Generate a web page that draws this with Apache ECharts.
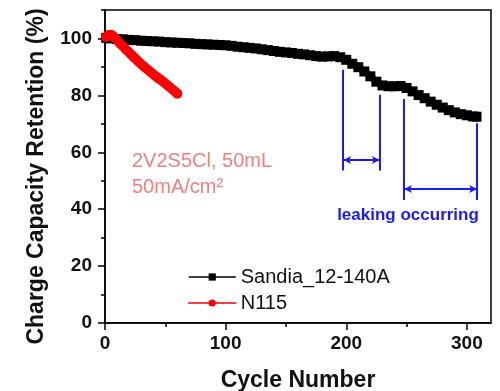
<!DOCTYPE html>
<html><head><meta charset="utf-8">
<script src="https://cdn.jsdelivr.net/npm/echarts@6/dist/echarts.min.js"></script>
<style>html,body{margin:0;padding:0;background:#fff}#c{width:500px;height:391px}</style>
</head><body><div id="c"></div>
<script>
const sandiaCycles = [1,5,10,15,20,25,30,35,40,45,50,55,60,65,70,75,80,85,90,95,100,105,110,115,120,125,130,135,140,145,150,155,160,165,170,175,180,185,190,195,200,205,210,215,220,225,230,235,240,245,250,255,260,265,270,275,280,285,290,295,300,305,308];
const sandiaValues = [100.2,100.0,99.8,99.7,99.5,99.4,99.2,99.1,99.0,98.9,98.7,98.6,98.5,98.4,98.3,98.1,98.0,97.9,97.8,97.7,97.6,97.4,97.1,96.9,96.7,96.5,96.2,95.9,95.6,95.3,95.1,94.9,94.6,94.4,94.1,93.8,93.6,93.7,93.8,93.4,92.5,91.1,89.9,88.4,86.7,84.8,83.5,83.2,83.2,83.3,82.6,81.4,80.1,79.0,77.8,76.7,75.7,74.8,74.0,73.4,73.0,72.6,72.5];
const n115Cycles = [1,3,5,7,9,11,13,15,17,19,21,23,25,27,29,31,33,35,37,39,41,43,45,47,49,51,53,55,57,59,60];
const n115Values = [100.5,101.2,101.3,100.8,99.9,98.9,98.0,97.2,96.3,95.5,94.6,93.8,93.0,92.2,91.4,90.6,89.9,89.2,88.5,87.8,87.1,86.4,85.8,85.2,84.5,83.8,83.1,82.4,81.7,81.0,80.6];
const seriesNames = ['Sandia_12-140A', 'N115'];
const xMajorTicks = [0,100,200,300];
const xMinorTicks = [50,150,250];
const yMajorTicks = [0,20,40,60,80,100];
const yMinorTicks = [10,30,50,70,90,110];
// leak annotation: [x, yTop, yBottom]
const leakVerticals = [[197.5,89.0,53.6],[227.8,80.2,53.6],[247.9,78.7,43.2],[308.5,70.2,43.2]];
// leak spans: [xFrom, xTo, y]
const leakSpans = [[197.5,227.8,57.3],[247.9,308.5,47.1]];
const noteLines = ['2V2S5Cl, 50mL', '50mA/cm\u00b2'];
const leakText = 'leaking occurring';

const FONT = 'Liberation Sans, Arial, sans-serif';
const BLUE = '#1a1aff';
const chart = echarts.init(document.getElementById('c'), null, {renderer:'canvas'});

const markData = [];
leakVerticals.forEach(v => markData.push([{coord:[v[0], v[1]]}, {coord:[v[0], v[2]]}]));
leakSpans.forEach(s => markData.push([
  {coord:[s[0], s[2]], symbol:'arrow', symbolSize:[6,8]},
  {coord:[s[1], s[2]], symbol:'arrow', symbolSize:[6,8]}
]));

const xMin = 0, xMax = 320, yMin = 0, yMax = 110;
chart.setOption({
  animation: false,
  backgroundColor: '#fff',
  grid: {left:105, right:9, top:10, bottom:68, show:true, borderColor:'#000', borderWidth:1.5,
         containLabel:false, outerBoundsMode:'none'},
  legend: {
    data: seriesNames, orient:'vertical', left:183, top:262, itemWidth:47, itemHeight:9, itemGap:6,
    textStyle:{fontFamily:FONT, fontSize:20, color:'#111'},
    lineStyle:{width:1.5}
  },
  xAxis: [{
    type:'value', min:xMin, max:xMax, position:'bottom',
    name:'Cycle Number', nameLocation:'middle', nameGap:46,
    nameTextStyle:{fontFamily:FONT, fontSize:23, fontWeight:'bold', color:'#111'},
    axisLine:{show:true, lineStyle:{color:'#000', width:1.5}},
    axisTick:{show:true, inside:false, length:7, customValues:xMajorTicks, lineStyle:{color:'#000', width:1.5}},
    axisLabel:{customValues:xMajorTicks, margin:11, fontFamily:FONT, fontSize:19, fontWeight:'bold', color:'#111'},
    splitLine:{show:false}
  },{
    type:'value', min:xMin, max:xMax, position:'bottom',
    axisLine:{show:false},
    axisTick:{show:true, inside:false, length:4, customValues:xMinorTicks, lineStyle:{color:'#000', width:1.5}},
    axisLabel:{show:false}, splitLine:{show:false}
  }],
  yAxis: [{
    type:'value', min:yMin, max:yMax, position:'left',
    name:'Charge Capacity Retention (%)', nameLocation:'middle', nameGap:57,
    nameTextStyle:{fontFamily:FONT, fontSize:23, fontWeight:'bold', color:'#111', padding:[0,20,0,0]},
    axisLine:{show:true, lineStyle:{color:'#000', width:1.5}},
    axisTick:{show:true, inside:false, length:7, customValues:yMajorTicks, lineStyle:{color:'#000', width:1.5}},
    axisLabel:{customValues:yMajorTicks, margin:13, fontFamily:FONT, fontSize:19, fontWeight:'bold', color:'#111'},
    splitLine:{show:false}
  },{
    type:'value', min:yMin, max:yMax, position:'left',
    axisLine:{show:false},
    axisTick:{show:true, inside:false, length:4, customValues:yMinorTicks, lineStyle:{color:'#000', width:1.5}},
    axisLabel:{show:false}, splitLine:{show:false}
  }],
  series: [{
    name: seriesNames[0], type:'line',
    data: sandiaCycles.map((c,i)=>[c, sandiaValues[i]]),
    symbol:'rect', symbolSize:10, showAllSymbol:true,
    itemStyle:{color:'#000'}, lineStyle:{color:'#000', width:7},
    markLine:{silent:true, symbol:'none', label:{show:false}, animation:false,
      lineStyle:{color:BLUE, width:2, type:'solid'}, data:markData}
  },{
    name: seriesNames[1], type:'line',
    data: n115Cycles.map((c,i)=>[c, n115Values[i]]),
    symbol:'circle', symbolSize:10, showAllSymbol:true,
    itemStyle:{color:'#ff0000'}, lineStyle:{color:'#ff0000', width:8, cap:'round'}
  }],
  graphic: [{
    type:'text', left:132, top:148,
    style:{text:noteLines.join('\n'), fontFamily:FONT, fontSize:20, lineHeight:26.6, fill:'#f08080'}
  },{
    type:'text', x:408, y:215,
    style:{text:leakText, fontFamily:FONT, fontSize:17, fontWeight:'bold', fill:BLUE, align:'center', verticalAlign:'middle'}
  }]
});
</script></body></html>
